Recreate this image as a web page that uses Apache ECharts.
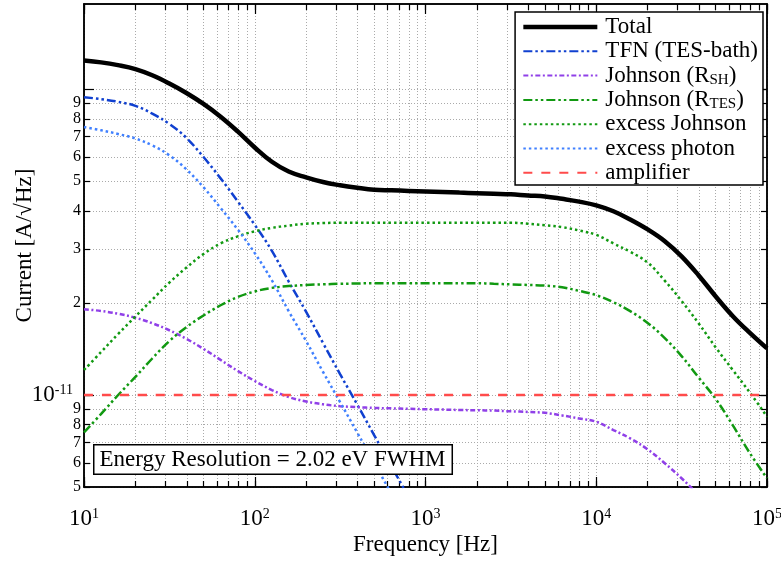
<!DOCTYPE html>
<html>
<head>
<meta charset="utf-8">
<script src="https://cdn.jsdelivr.net/npm/echarts@6/dist/echarts.min.js"></script>
<style>
  html, body { margin: 0; padding: 0; background: #fff; }
  #chart { width: 781px; height: 563px; }
</style>
</head>
<body>
<div id="chart"></div>
<script>
// frequencies [Hz] and currents [A/sqrt(Hz)]
const freq = [10, 12.6, 15.8, 20, 25.1, 31.6, 39.8, 50.1, 63.1, 79.4,
  100, 126, 158, 200, 251, 316, 398, 501, 631, 794,
  1000, 1260, 1580, 2000, 2510, 3160, 3980, 5010, 6310, 7940,
  10000, 12600, 15800, 20000, 25100, 31600, 39800, 50100, 63100, 79400, 100000]

const total = [1.241e-10, 1.224e-10, 1.199e-10, 1.164e-10, 1.111e-10, 1.044e-10, 9.72e-11, 8.95e-11, 8.13e-11, 7.28e-11,
  6.45e-11, 5.79e-11, 5.38e-11, 5.15e-11, 4.97e-11, 4.85e-11, 4.76e-11, 4.69e-11, 4.67e-11, 4.65e-11,
  4.63e-11, 4.61e-11, 4.59e-11, 4.57e-11, 4.55e-11, 4.53e-11, 4.49e-11, 4.46e-11, 4.38e-11, 4.29e-11,
  4.17e-11, 3.99e-11, 3.75e-11, 3.48e-11, 3.19e-11, 2.84e-11, 2.46e-11, 2.10e-11, 1.81e-11, 1.596e-11, 1.42e-11]
const tfn = [9.42e-11, 9.28e-11, 9.10e-11, 8.82e-11, 8.32e-11, 7.70e-11, 6.93e-11, 6.00e-11, 5.11e-11, 4.30e-11,
  3.60e-11, 2.96e-11, 2.35e-11, 1.87e-11, 1.48e-11, 1.17e-11, 9.31e-12, 7.38e-12, 5.85e-12, 4.65e-12,
  3.68e-12, null, null, null, null, null, null, null, null, null,
  null, null, null, null, null, null, null, null, null, null, null]
const johnsonSH = [1.908e-11, 1.882e-11, 1.844e-11, 1.789e-11, 1.717e-11, 1.628e-11, 1.526e-11, 1.415e-11, 1.302e-11, 1.199e-11,
  1.111e-11, 1.038e-11, 9.85e-12, 9.52e-12, 9.32e-12, 9.19e-12, 9.12e-12, 9.07e-12, 9.04e-12, 9.01e-12,
  8.98e-12, 8.96e-12, 8.93e-12, 8.91e-12, 8.89e-12, 8.84e-12, 8.80e-12, 8.74e-12, 8.57e-12, 8.38e-12,
  8.17e-12, 7.68e-12, 7.21e-12, 6.64e-12, 5.99e-12, 5.34e-12, 4.71e-12, 4.15e-12, null, null, null]
const johnsonTES = [7.54e-12, 8.67e-12, 9.98e-12, 1.146e-11, 1.316e-11, 1.50e-11, 1.667e-11, 1.82e-11, 1.965e-11, 2.09e-11,
  2.18e-11, 2.24e-11, 2.27e-11, 2.29e-11, 2.30e-11, 2.31e-11, 2.315e-11, 2.32e-11, 2.32e-11, 2.32e-11,
  2.32e-11, 2.32e-11, 2.32e-11, 2.32e-11, 2.31e-11, 2.30e-11, 2.29e-11, 2.28e-11, 2.25e-11, 2.19e-11,
  2.12e-11, 2.01e-11, 1.88e-11, 1.72e-11, 1.538e-11, 1.34e-11, 1.14e-11, 9.70e-12, 7.95e-12, 6.45e-12, 5.34e-12]
const excessJohnson = [1.207e-11, 1.382e-11, 1.581e-11, 1.806e-11, 2.05e-11, 2.33e-11, 2.61e-11, 2.89e-11, 3.13e-11, 3.30e-11,
  3.43e-11, 3.52e-11, 3.58e-11, 3.63e-11, 3.65e-11, 3.66e-11, 3.66e-11, 3.66e-11, 3.66e-11, 3.66e-11,
  3.66e-11, 3.66e-11, 3.66e-11, 3.66e-11, 3.66e-11, 3.66e-11, 3.63e-11, 3.59e-11, 3.54e-11, 3.45e-11,
  3.34e-11, 3.13e-11, 2.94e-11, 2.71e-11, 2.37e-11, 2.03e-11, 1.714e-11, 1.43e-11, 1.206e-11, 1.018e-11, 8.49e-12]
const excessPhoton = [7.52e-11, 7.34e-11, 7.14e-11, 6.90e-11, 6.55e-11, 6.08e-11, 5.47e-11, 4.78e-11, 4.09e-11, 3.48e-11,
  2.91e-11, 2.37e-11, 1.88e-11, 1.50e-11, 1.19e-11, 9.48e-12, 7.54e-12, 5.99e-12, 4.76e-12, 3.79e-12,
  null, null, null, null, null, null, null, null, null, null,
  null, null, null, null, null, null, null, null, null, null, null]
const ampFreq = [10, 100000]
const amplifier = [1.0e-11, 1.0e-11]

// axis ranges and tick labels
const xRange = [10, 1e5]
const yRange = [5e-12, 1.9e-10]
const xLabelExp = [1, 2, 3, 4, 5]
const yLabelValues = [5e-12, 6e-12, 7e-12, 8e-12, 9e-12, 1e-11, 2e-11, 3e-11, 4e-11, 5e-11, 6e-11, 7e-11, 8e-11, 9e-11, 1e-10]

const lg = Math.log10
const FONT = 'Liberation Serif'

// tick positions (log10 space): 1..9 in each decade inside the range
function decadeTicks(range) {
  const out = []
  const lo = Math.floor(lg(range[0]))
  const hi = Math.ceil(lg(range[1]))
  for (let e = lo; e <= hi; e++) {
    for (let m = 1; m <= 9; m++) {
      const v = lg(m) + e
      if (v >= lg(range[0]) - 1e-9 && v <= lg(range[1]) + 1e-9) out.push(v)
    }
  }
  return out
}
const xMinor = decadeTicks(xRange)
const xMajor = xLabelExp.slice()
const yMinor = decadeTicks(yRange)
const yMajor = [-11, -10]
const yLabels = yLabelValues.map(v => lg(v))

const rich = {
  b: { fontFamily: FONT, fontSize: 23, color: '#000', lineHeight: 24 },
  s: { fontFamily: FONT, fontSize: 14, color: '#000', lineHeight: 8, verticalAlign: 'top' },
  m: { fontFamily: FONT, fontSize: 16, color: '#000', lineHeight: 16 },
  p: { fontSize: 10, width: 8 }
}

function isDecade(v) { return Math.abs(v - Math.round(v)) < 1e-6 }

const gridLine = { show: true, lineStyle: { color: '#aaa', width: 1, type: [1, 2] } }
const nameStyle = { fontFamily: FONT, fontSize: 23, color: '#000' }

function xAxisDef(position, ticks, len, withLabels) {
  return {
    type: 'value', position, min: lg(xRange[0]), max: lg(xRange[1]),
    axisLine: { show: true, onZero: false, lineStyle: { color: '#000', width: 1.5 } },
    axisTick: { show: true, inside: true, length: len, customValues: ticks, lineStyle: { color: '#000', width: 1.2 } },
    axisLabel: {
      show: withLabels, customValues: xMajor, margin: 20,
      formatter: v => '{b|10}{s|' + Math.round(v) + '}', rich
    },
    splitLine: withLabels ? gridLine : { show: false },
    name: withLabels ? 'Frequency [Hz]' : '',
    nameLocation: 'middle', nameGap: 46, nameMoveOverlap: false,
    nameTextStyle: nameStyle
  }
}

function yAxisDef(position, ticks, len, withLabels) {
  return {
    type: 'value', position, min: lg(yRange[0]), max: lg(yRange[1]),
    axisLine: { show: true, onZero: false, lineStyle: { color: '#000', width: 1.5 } },
    axisTick: { show: true, inside: true, length: len, customValues: ticks, lineStyle: { color: '#000', width: 1.2 } },
    axisLabel: {
      show: withLabels, customValues: yLabels, margin: 3,
      formatter: v => {
        if (isDecade(v)) return '{b|10}{s|' + Math.round(v) + '}{p| }'
        const e = Math.floor(v + 1e-9)
        return '{m|' + Math.round(Math.pow(10, v - e)) + '}'
      },
      rich
    },
    splitLine: withLabels ? gridLine : { show: false },
    name: withLabels ? 'Current [A/\u221aHz]' : '',
    nameLocation: 'middle', nameGap: 48, nameMoveOverlap: false,
    nameTextStyle: nameStyle
  }
}

function pts(xs, ys) {
  return xs.map((f, i) => ys[i] == null ? null : [lg(f), lg(ys[i])])
}

function line(name, xs, ys, color, width, type) {
  return {
    name, type: 'line', data: pts(xs, ys), xAxisIndex: 0, yAxisIndex: 0,
    showSymbol: false, symbol: 'none', smooth: 0.4, connectNulls: false,
    lineStyle: { color, width, type },
    itemStyle: { color },
    emphasis: { disabled: true }
  }
}

const legendText = {
  'Johnson (R_SH)': '{t|Johnson (R}{u|SH}{t|)}',
  'Johnson (R_TES)': '{t|Johnson (R}{u|TES}{t|)}'
}

const chart = echarts.init(document.getElementById('chart'))
chart.setOption({
  animation: false,
  backgroundColor: '#fff',
  grid: { left: 84, right: 14, top: 4, bottom: 76, containLabel: false, outerBoundsMode: 'none' },
  xAxis: [
    xAxisDef('bottom', xMinor, 6, true),
    xAxisDef('bottom', xMajor, 10, false),
    xAxisDef('top', xMinor, 6, false),
    xAxisDef('top', xMajor, 10, false)
  ],
  yAxis: [
    yAxisDef('left', yMinor, 6, true),
    yAxisDef('left', yMajor, 10, false),
    yAxisDef('right', yMinor, 6, false),
    yAxisDef('right', yMajor, 10, false)
  ],
  legend: {
    orient: 'vertical', right: 18, top: 12,
    backgroundColor: '#fff', borderColor: '#000', borderWidth: 1.5, borderRadius: 0,
    padding: [3.5, 5, 0.7, 6], itemWidth: 74, itemHeight: 18, itemGap: 1.3,
    itemStyle: { opacity: 0 },
    formatter: name => legendText[name] || ('{t|' + name + '}'),
    textStyle: {
      padding: [0, 0, 0, 3],
      rich: {
        t: { fontFamily: FONT, fontSize: 23, color: '#000', lineHeight: 23 },
        u: { fontFamily: FONT, fontSize: 15, color: '#000', lineHeight: 8, verticalAlign: 'bottom' }
      }
    },
    data: [
      { name: 'Total', lineStyle: { width: 4.5 } },
      'TFN (TES-bath)', 'Johnson (R_SH)', 'Johnson (R_TES)', 'excess Johnson', 'excess photon', 'amplifier'
    ]
  },
  graphic: [{
    type: 'text', left: 93, top: 444, z: 100,
    style: {
      text: 'Energy Resolution = 2.02 eV FWHM',
      font: '23px "Liberation Serif"', fill: '#000',
      backgroundColor: '#fff', borderColor: '#000', borderWidth: 1.5,
      padding: [3, 6, 2, 5]
    }
  }],
  series: [
    line('Total', freq, total, '#000', 4.5, 'solid'),
    line('TFN (TES-bath)', freq, tfn, '#1040d0', 2.5, [9, 3, 2.5, 3, 2.5, 3]),
    line('Johnson (R_SH)', freq, johnsonSH, '#9040e8', 2.5, [5, 2.5, 2, 2.5]),
    line('Johnson (R_TES)', freq, johnsonTES, '#119911', 2.5, [9, 3, 2.5, 3, 2.5, 3]),
    line('excess Johnson', freq, excessJohnson, '#119911', 2.5, [2.5, 3]),
    line('excess photon', freq, excessPhoton, '#4080ff', 2.5, [2.5, 3]),
    line('amplifier', ampFreq, amplifier, '#ff4b4b', 2.5, [9, 9])
  ]
})
</script>
</body>
</html>
